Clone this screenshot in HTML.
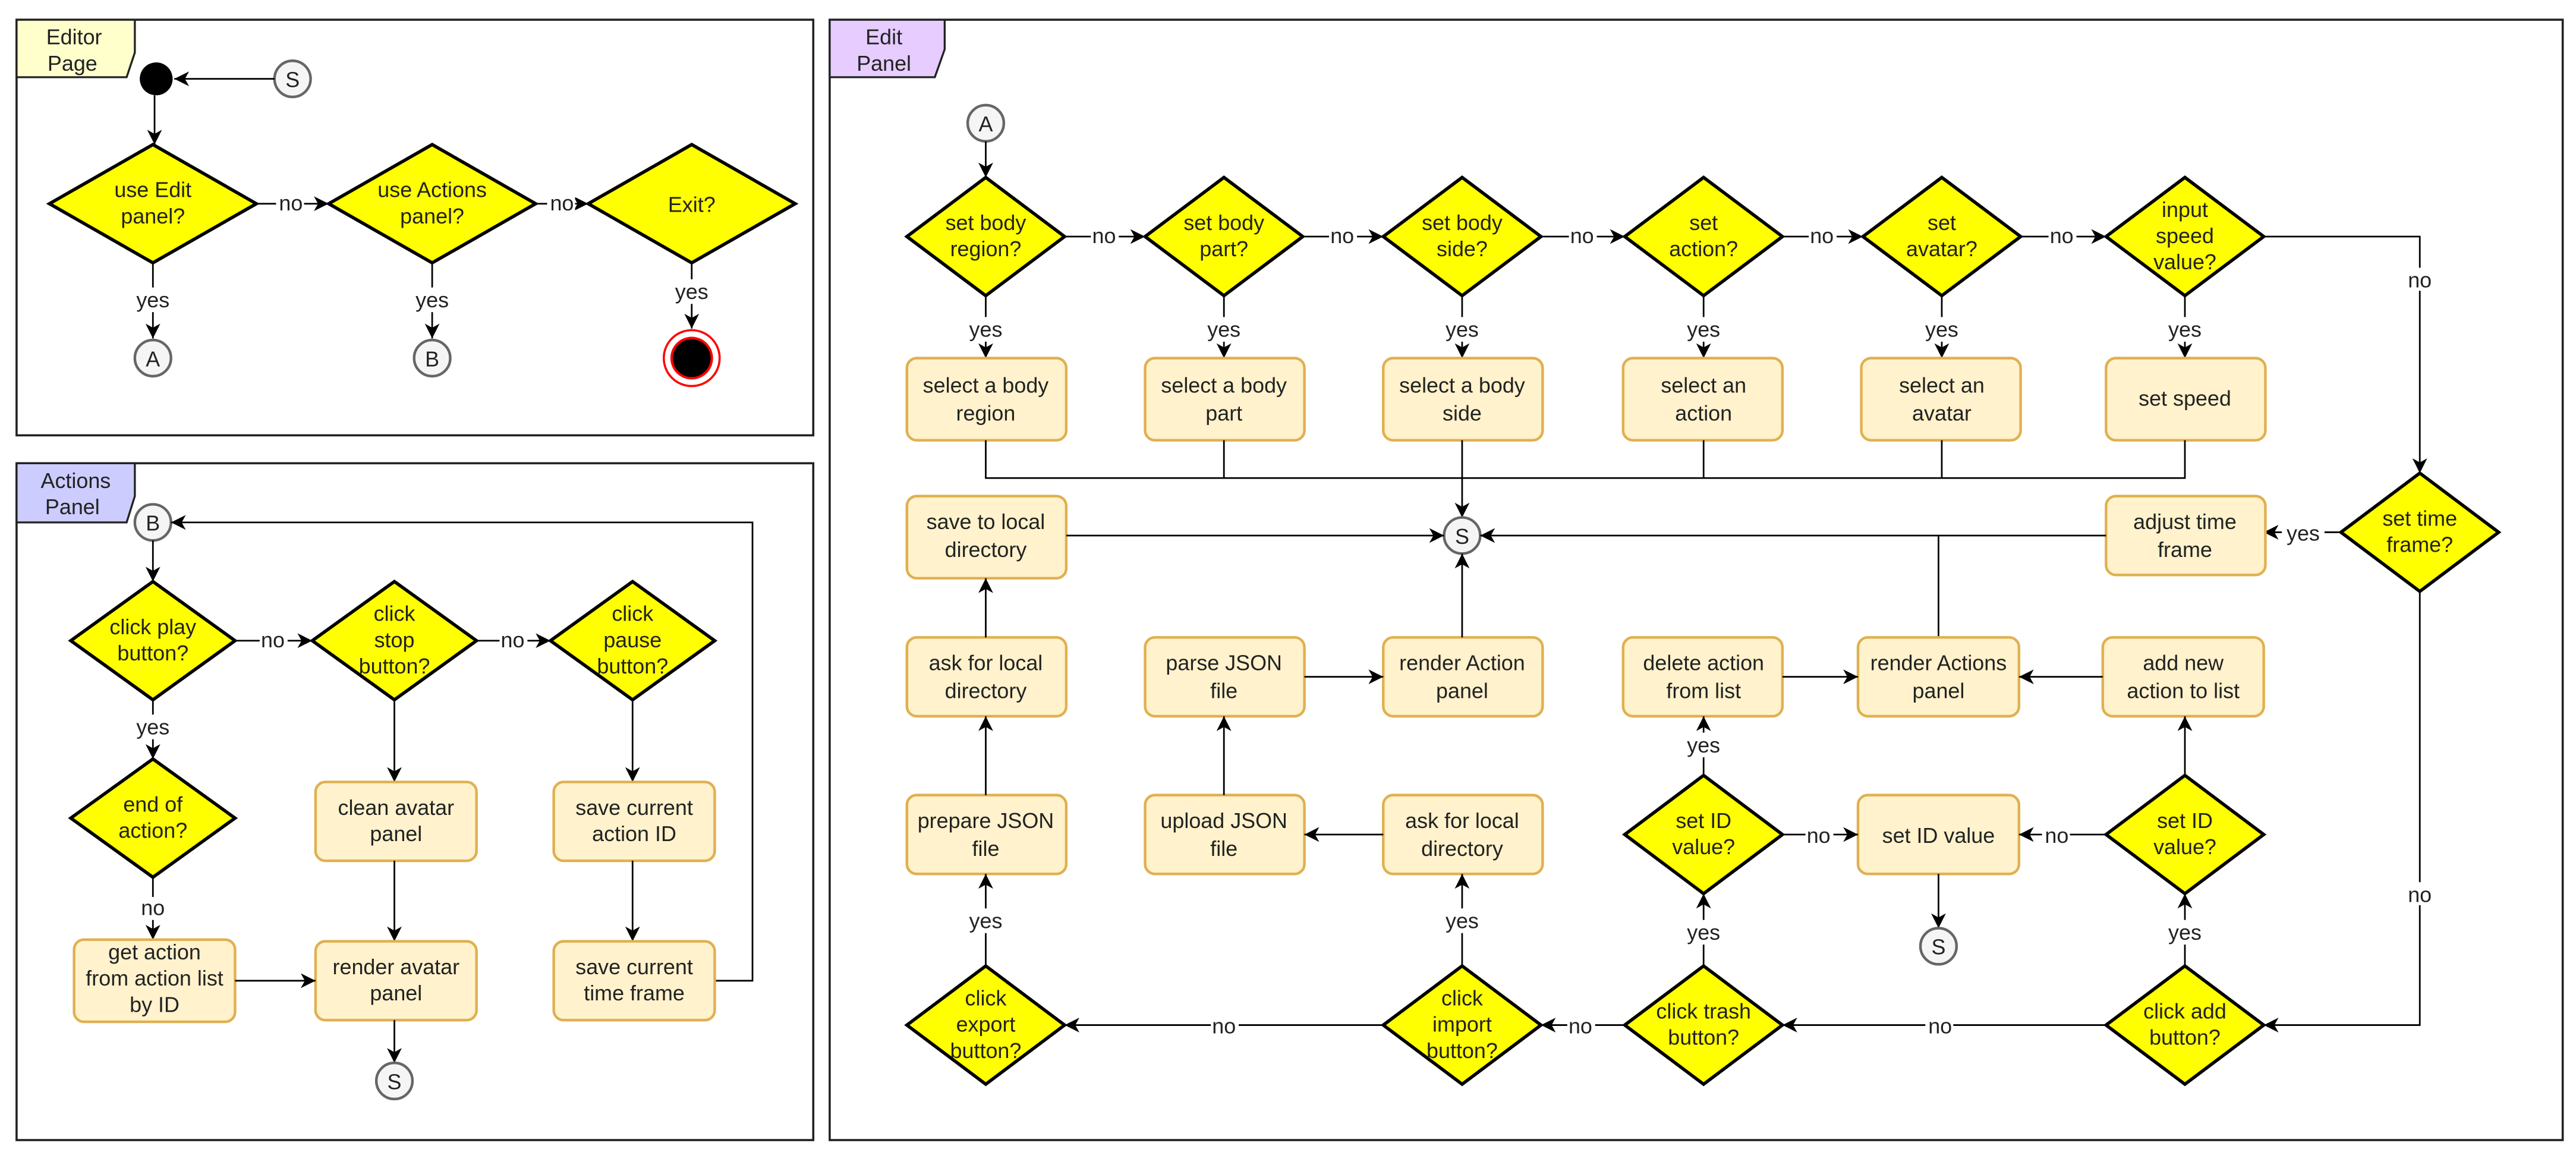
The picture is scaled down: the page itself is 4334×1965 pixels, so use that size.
<!DOCTYPE html>
<html><head><meta charset="utf-8"><style>
html,body{margin:0;padding:0;background:#fff;}
svg{display:block;}
text{font-family:"Liberation Sans",Arial,sans-serif;font-size:13px;fill:#222;text-anchor:middle;}
.lbl{fill:#333;}
.d{fill:#ffff00;stroke:#000;stroke-width:2;}
.b{fill:#fff2cc;stroke:#e0b050;stroke-width:1.6;}
.c{fill:#f5f5f5;stroke:#666;stroke-width:1.6;}
.l{fill:none;stroke:#000;stroke-width:1;}
.a{fill:none;stroke:#000;stroke-width:1;marker-end:url(#ar);}
.p{fill:none;stroke:#222;stroke-width:1.3;}
</style></head><body>
<svg width="4334" height="1965" viewBox="0 0 1568 711" xmlns="http://www.w3.org/2000/svg">
<defs><marker id="ar" markerUnits="userSpaceOnUse" markerWidth="10" markerHeight="10" refX="9" refY="5" orient="auto"><path d="M0,0.5 L9,5 L0,9.5 L2.5,5 z" fill="#000"/></marker></defs>
<rect width="1568" height="711" fill="#fff"/>

<!-- Editor Page -->
<rect class="p" x="10" y="12" width="485" height="253"/>
<path d="M10,12 L82,12 L82,32 L77,47 L10,47 Z" fill="#ffffcc" stroke="#222" stroke-width="1.2"/>
<text x="45" y="27">Editor</text><text x="44" y="43">Page</text>
<circle cx="95" cy="48" r="10" fill="#000"/>
<circle class="c" cx="178" cy="48" r="11"/><text x="178" y="53">S</text>
<line class="a" x1="167" y1="48" x2="106" y2="48"/>
<line class="a" x1="94" y1="58" x2="94" y2="88"/>
<polygon class="d" points="93,88 156,124 93,160 30,124"/><text x="93" y="120">use Edit</text><text x="93" y="136">panel?</text>
<polygon class="d" points="263,88 326,124 263,160 200,124"/><text x="263" y="120">use Actions</text><text x="263" y="136">panel?</text>
<polygon class="d" points="421,88 484,124 421,160 358,124"/><text x="421" y="129">Exit?</text>
<line class="a" x1="156" y1="124" x2="200" y2="124"/><rect x="168" y="116" width="17" height="14" fill="#fff"/><text x="177" y="128">no</text>
<line class="a" x1="326" y1="124" x2="358" y2="124"/><rect x="333" y="116" width="17" height="14" fill="#fff"/><text x="342" y="128">no</text>
<line class="a" x1="93" y1="160" x2="93" y2="206"/><rect x="80" y="175" width="26" height="15" fill="#fff"/><text x="93" y="187">yes</text>
<line class="a" x1="263" y1="160" x2="263" y2="206"/><rect x="250" y="175" width="26" height="15" fill="#fff"/><text x="263" y="187">yes</text>
<line class="a" x1="421" y1="160" x2="421" y2="200"/><rect x="408" y="170" width="26" height="15" fill="#fff"/><text x="421" y="182">yes</text>
<circle class="c" cx="93" cy="218" r="11"/><text x="93" y="223">A</text>
<circle class="c" cx="263" cy="218" r="11"/><text x="263" y="223">B</text>
<circle cx="421" cy="218" r="17" fill="#fff" stroke="#f00" stroke-width="1.3"/><circle cx="421" cy="218" r="13" fill="#f00"/><circle cx="421" cy="218" r="11.5" fill="#000"/>

<!-- Actions Panel -->
<rect class="p" x="10" y="282" width="485" height="412"/>
<path d="M10,282 L82,282 L82,302 L77,318 L10,318 Z" fill="#ccccff" stroke="#222" stroke-width="1.2"/>
<text x="46" y="297">Actions</text><text x="44" y="313">Panel</text>
<circle class="c" cx="93" cy="318" r="11"/><text x="93" y="323">B</text>
<polyline class="a" points="435,597 458,597 458,318 104,318"/>
<line class="a" x1="93" y1="329" x2="93" y2="354"/>
<polygon class="d" points="93,354 143,390 93,426 43,390"/><text x="93" y="386">click play</text><text x="93" y="402">button?</text>
<polygon class="d" points="240,354 290,390 240,426 190,390"/><text x="240" y="378">click</text><text x="240" y="394">stop</text><text x="240" y="410">button?</text>
<polygon class="d" points="385,354 435,390 385,426 335,390"/><text x="385" y="378">click</text><text x="385" y="394">pause</text><text x="385" y="410">button?</text>
<line class="a" x1="143" y1="390" x2="190" y2="390"/><rect x="158" y="382" width="17" height="14" fill="#fff"/><text x="166" y="394">no</text>
<line class="a" x1="290" y1="390" x2="335" y2="390"/><rect x="304" y="382" width="17" height="14" fill="#fff"/><text x="312" y="394">no</text>
<line class="a" x1="93" y1="426" x2="93" y2="462"/><rect x="80" y="435" width="26" height="15" fill="#fff"/><text x="93" y="447">yes</text>
<polygon class="d" points="93,462 143,498 93,534 43,498"/><text x="93" y="494">end of</text><text x="93" y="510">action?</text>
<line class="a" x1="93" y1="534" x2="93" y2="572"/><rect x="84" y="546" width="18" height="14" fill="#fff"/><text x="93" y="557">no</text>
<rect class="b" x="45" y="572" width="98" height="50" rx="6"/><text x="94" y="584">get action</text><text x="94" y="600">from action list</text><text x="94" y="616">by ID</text>
<line class="a" x1="240" y1="426" x2="240" y2="476"/>
<rect class="b" x="192" y="476" width="98" height="48" rx="6"/><text x="241" y="496">clean avatar</text><text x="241" y="512">panel</text>
<line class="a" x1="240" y1="524" x2="240" y2="573"/>
<rect class="b" x="192" y="573" width="98" height="48" rx="6"/><text x="241" y="593">render avatar</text><text x="241" y="609">panel</text>
<line class="a" x1="143" y1="597" x2="192" y2="597"/>
<line class="a" x1="240" y1="621" x2="240" y2="647"/>
<circle class="c" cx="240" cy="658" r="11"/><text x="240" y="663">S</text>
<line class="a" x1="385" y1="426" x2="385" y2="476"/>
<rect class="b" x="337" y="476" width="98" height="48" rx="6"/><text x="386" y="496">save current</text><text x="386" y="512">action ID</text>
<line class="a" x1="385" y1="524" x2="385" y2="573"/>
<rect class="b" x="337" y="573" width="98" height="48" rx="6"/><text x="386" y="593">save current</text><text x="386" y="609">time frame</text>

<!-- Edit Panel -->
<rect class="p" x="505" y="12" width="1055" height="682"/>
<path d="M505,12 L575,12 L575,30 L569,47 L505,47 Z" fill="#e6ccff" stroke="#222" stroke-width="1.2"/>
<text x="538" y="27">Edit</text><text x="538" y="43">Panel</text>
<circle class="c" cx="600" cy="75" r="11"/><text x="600" y="80">A</text>
<line class="a" x1="600" y1="86" x2="600" y2="108"/>

<polygon class="d" points="600,108 648,144 600,180 552,144"/><text x="600" y="140">set body</text><text x="600" y="156">region?</text>
<polygon class="d" points="745,108 793,144 745,180 697,144"/><text x="745" y="140">set body</text><text x="745" y="156">part?</text>
<polygon class="d" points="890,108 938,144 890,180 842,144"/><text x="890" y="140">set body</text><text x="890" y="156">side?</text>
<polygon class="d" points="1037,108 1085,144 1037,180 989,144"/><text x="1037" y="140">set</text><text x="1037" y="156">action?</text>
<polygon class="d" points="1182,108 1230,144 1182,180 1134,144"/><text x="1182" y="140">set</text><text x="1182" y="156">avatar?</text>
<polygon class="d" points="1330,108 1378,144 1330,180 1282,144"/><text x="1330" y="132">input</text><text x="1330" y="148">speed</text><text x="1330" y="164">value?</text>
<line class="a" x1="648" y1="144" x2="697" y2="144"/><rect x="664" y="136" width="17" height="14" fill="#fff"/><text x="672" y="148">no</text>
<line class="a" x1="793" y1="144" x2="842" y2="144"/><rect x="809" y="136" width="17" height="14" fill="#fff"/><text x="817" y="148">no</text>
<line class="a" x1="938" y1="144" x2="989" y2="144"/><rect x="955" y="136" width="17" height="14" fill="#fff"/><text x="963" y="148">no</text>
<line class="a" x1="1085" y1="144" x2="1134" y2="144"/><rect x="1101" y="136" width="17" height="14" fill="#fff"/><text x="1109" y="148">no</text>
<line class="a" x1="1230" y1="144" x2="1282" y2="144"/><rect x="1247" y="136" width="17" height="14" fill="#fff"/><text x="1255" y="148">no</text>

<g>
<line class="a" x1="600" y1="180" x2="600" y2="218"/><rect x="587" y="193" width="26" height="15" fill="#fff"/><text x="600" y="205">yes</text>
<line class="a" x1="745" y1="180" x2="745" y2="218"/><rect x="732" y="193" width="26" height="15" fill="#fff"/><text x="745" y="205">yes</text>
<line class="a" x1="890" y1="180" x2="890" y2="218"/><rect x="877" y="193" width="26" height="15" fill="#fff"/><text x="890" y="205">yes</text>
<line class="a" x1="1037" y1="180" x2="1037" y2="218"/><rect x="1024" y="193" width="26" height="15" fill="#fff"/><text x="1037" y="205">yes</text>
<line class="a" x1="1182" y1="180" x2="1182" y2="218"/><rect x="1169" y="193" width="26" height="15" fill="#fff"/><text x="1182" y="205">yes</text>
<line class="a" x1="1330" y1="180" x2="1330" y2="218"/><rect x="1317" y="193" width="26" height="15" fill="#fff"/><text x="1330" y="205">yes</text>
</g>
<rect class="b" x="552" y="218" width="97" height="50" rx="6"/><text x="600" y="239">select a body</text><text x="600" y="256">region</text>
<rect class="b" x="697" y="218" width="97" height="50" rx="6"/><text x="745" y="239">select a body</text><text x="745" y="256">part</text>
<rect class="b" x="842" y="218" width="97" height="50" rx="6"/><text x="890" y="239">select a body</text><text x="890" y="256">side</text>
<rect class="b" x="988" y="218" width="97" height="50" rx="6"/><text x="1037" y="239">select an</text><text x="1037" y="256">action</text>
<rect class="b" x="1133" y="218" width="97" height="50" rx="6"/><text x="1182" y="239">select an</text><text x="1182" y="256">avatar</text>
<rect class="b" x="1282" y="218" width="97" height="50" rx="6"/><text x="1330" y="247">set speed</text>
<polyline class="l" points="600,268 600,291 1330,291 1330,268"/>
<line class="l" x1="745" y1="268" x2="745" y2="291"/><line class="l" x1="1037" y1="268" x2="1037" y2="291"/><line class="l" x1="1182" y1="268" x2="1182" y2="291"/>
<line class="a" x1="890" y1="268" x2="890" y2="315"/>
<circle class="c" cx="890" cy="326" r="11"/><text x="890" y="331">S</text>

<polyline class="a" points="1378,144 1473,144 1473,288"/><rect x="1464" y="163" width="18" height="14" fill="#fff"/><text x="1473" y="175">no</text>
<polygon class="d" points="1473,288 1521,324 1473,360 1425,324"/><text x="1473" y="320">set time</text><text x="1473" y="336">frame?</text>
<line class="a" x1="1425" y1="324" x2="1378" y2="324"/><rect x="1389" y="317" width="26" height="15" fill="#fff"/><text x="1402" y="329">yes</text>
<rect class="b" x="1282" y="302" width="97" height="48" rx="6"/><text x="1330" y="322">adjust time</text><text x="1330" y="339">frame</text>
<line class="a" x1="1282" y1="326" x2="901" y2="326"/>
<rect class="b" x="552" y="302" width="97" height="50" rx="6"/><text x="600" y="322">save to local</text><text x="600" y="339">directory</text>
<line class="a" x1="649" y1="326" x2="879" y2="326"/>
<line class="l" x1="1180" y1="326" x2="1180" y2="388"/>

<rect class="b" x="552" y="388" width="97" height="48" rx="6"/><text x="600" y="408">ask for local</text><text x="600" y="425">directory</text>
<rect class="b" x="697" y="388" width="97" height="48" rx="6"/><text x="745" y="408">parse JSON</text><text x="745" y="425">file</text>
<rect class="b" x="842" y="388" width="97" height="48" rx="6"/><text x="890" y="408">render Action</text><text x="890" y="425">panel</text>
<rect class="b" x="988" y="388" width="97" height="48" rx="6"/><text x="1037" y="408">delete action</text><text x="1037" y="425">from list</text>
<rect class="b" x="1131" y="388" width="98" height="48" rx="6"/><text x="1180" y="408">render Actions</text><text x="1180" y="425">panel</text>
<rect class="b" x="1280" y="388" width="98" height="48" rx="6"/><text x="1329" y="408">add new</text><text x="1329" y="425">action to list</text>
<line class="a" x1="600" y1="388" x2="600" y2="352"/>
<line class="a" x1="890" y1="388" x2="890" y2="337"/>
<line class="a" x1="794" y1="412" x2="842" y2="412"/>
<line class="a" x1="1085" y1="412" x2="1131" y2="412"/>
<line class="a" x1="1280" y1="412" x2="1229" y2="412"/>

<rect class="b" x="552" y="484" width="97" height="48" rx="6"/><text x="600" y="504">prepare JSON</text><text x="600" y="521">file</text>
<rect class="b" x="697" y="484" width="97" height="48" rx="6"/><text x="745" y="504">upload JSON</text><text x="745" y="521">file</text>
<rect class="b" x="842" y="484" width="97" height="48" rx="6"/><text x="890" y="504">ask for local</text><text x="890" y="521">directory</text>
<line class="a" x1="600" y1="484" x2="600" y2="436"/>
<line class="a" x1="745" y1="484" x2="745" y2="436"/>
<line class="a" x1="842" y1="508" x2="794" y2="508"/>
<polygon class="d" points="1037,472 1085,508 1037,544 989,508"/><text x="1037" y="504">set ID</text><text x="1037" y="520">value?</text>
<rect class="b" x="1131" y="484" width="98" height="48" rx="6"/><text x="1180" y="513">set ID value</text>
<polygon class="d" points="1330,472 1378,508 1330,544 1282,508"/><text x="1330" y="504">set ID</text><text x="1330" y="520">value?</text>
<line class="a" x1="1085" y1="508" x2="1131" y2="508"/><rect x="1099" y="501" width="17" height="14" fill="#fff"/><text x="1107" y="513">no</text>
<line class="a" x1="1282" y1="508" x2="1229" y2="508"/><rect x="1243" y="501" width="17" height="14" fill="#fff"/><text x="1252" y="513">no</text>
<line class="a" x1="1037" y1="472" x2="1037" y2="436"/><rect x="1024" y="446" width="26" height="15" fill="#fff"/><text x="1037" y="458">yes</text>
<line class="a" x1="1330" y1="472" x2="1330" y2="436"/>
<line class="a" x1="1180" y1="532" x2="1180" y2="565"/>
<circle class="c" cx="1180" cy="576" r="11"/><text x="1180" y="581">S</text>

<polygon class="d" points="600,588 648,624 600,660 552,624"/><text x="600" y="612">click</text><text x="600" y="628">export</text><text x="600" y="644">button?</text>
<polygon class="d" points="890,588 938,624 890,660 842,624"/><text x="890" y="612">click</text><text x="890" y="628">import</text><text x="890" y="644">button?</text>
<polygon class="d" points="1037,588 1085,624 1037,660 989,624"/><text x="1037" y="620">click trash</text><text x="1037" y="636">button?</text>
<polygon class="d" points="1330,588 1378,624 1330,660 1282,624"/><text x="1330" y="620">click add</text><text x="1330" y="636">button?</text>
<polyline class="a" points="1473,360 1473,624 1378,624"/><rect x="1464" y="537" width="18" height="14" fill="#fff"/><text x="1473" y="549">no</text>
<line class="a" x1="1282" y1="624" x2="1085" y2="624"/><rect x="1172" y="617" width="17" height="14" fill="#fff"/><text x="1181" y="629">no</text>
<line class="a" x1="989" y1="624" x2="938" y2="624"/><rect x="954" y="617" width="17" height="14" fill="#fff"/><text x="962" y="629">no</text>
<line class="a" x1="842" y1="624" x2="648" y2="624"/><rect x="737" y="617" width="17" height="14" fill="#fff"/><text x="745" y="629">no</text>
<line class="a" x1="600" y1="588" x2="600" y2="532"/><rect x="587" y="553" width="26" height="15" fill="#fff"/><text x="600" y="565">yes</text>
<line class="a" x1="890" y1="588" x2="890" y2="532"/><rect x="877" y="553" width="26" height="15" fill="#fff"/><text x="890" y="565">yes</text>
<line class="a" x1="1037" y1="588" x2="1037" y2="544"/><rect x="1024" y="560" width="26" height="15" fill="#fff"/><text x="1037" y="572">yes</text>
<line class="a" x1="1330" y1="588" x2="1330" y2="544"/><rect x="1317" y="560" width="26" height="15" fill="#fff"/><text x="1330" y="572">yes</text>
</svg>
</body></html>
